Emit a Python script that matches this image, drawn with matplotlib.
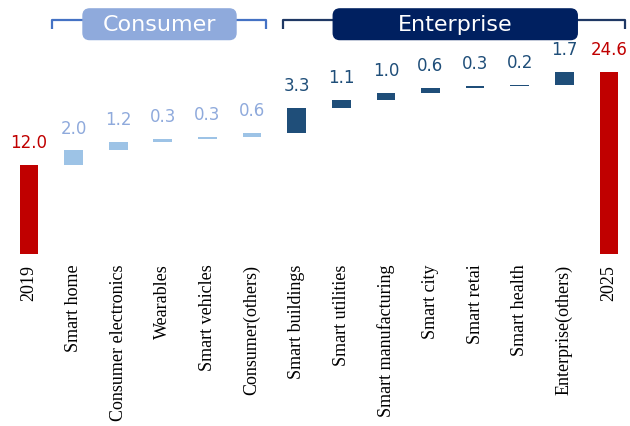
import matplotlib
matplotlib.use("Agg")
import matplotlib.pyplot as plt
from matplotlib.patches import FancyBboxPatch
import matplotlib.transforms as mtransforms

# -----------------------------
# Data
# -----------------------------
categories = ["2019", "Smart home", "Consumer electronics", "Wearables",
              "Smart vehicles", "Consumer(others)", "Smart buildings",
              "Smart utilities", "Smart manufacturing", "Smart city",
              "Smart retai", "Smart health", "Enterprise(others)", "2025"]
values = [12.0, 2.0, 1.2, 0.3, 0.3, 0.6, 3.3, 1.1, 1.0, 0.6, 0.3, 0.2, 1.7, 24.6]
kinds = ["total"] + ["consumer"] * 5 + ["enterprise"] * 7 + ["total"]

bar_colors = {"total": "#c00000", "consumer": "#9dc3e6", "enterprise": "#1f4e79"}
text_colors = {"total": "#c00000", "consumer": "#8faadc", "enterprise": "#1f4e79"}

# -----------------------------
# Waterfall bottoms
# -----------------------------
bottoms = []
running = 0.0
for v, k in zip(values, kinds):
    if k == "total":
        bottoms.append(0.0)
        running = v
    else:
        bottoms.append(running)
        running += v

fig = plt.figure(figsize=(6.3, 4.27), dpi=100)
ax = fig.add_axes([4.5 / 630, (427 - 255) / 427, (629 - 4.5) / 630, 222 / 427])

x = list(range(len(categories)))
ax.bar(x, values, bottom=bottoms, width=0.42,
       color=[bar_colors[k] for k in kinds])

for xi, v, b, k in zip(x, values, bottoms, kinds):
    ax.annotate(f"{v:.1f}", (xi, b + v), xytext=(0, 10), textcoords="offset points",
                ha="center", va="bottom", fontsize=12, color=text_colors[k])

ax.set_xlim(-0.55, 13.45)
ax.set_ylim(0, 30)
ax.set_xticks(x)
ax.set_xticklabels(categories, rotation=90, fontsize=13,
                   fontfamily="Liberation Serif")
ax.tick_params(axis="x", length=0, pad=7)
ax.set_yticks([])
for s in ax.spines.values():
    s.set_visible(False)

# -----------------------------
# Group brackets and headers
# -----------------------------
trans = mtransforms.blended_transform_factory(ax.transData, ax.transAxes)
groups = [("Consumer", 0.52, 5.31, 1.21, 4.64, "#4472c4", "#8faadc"),
          ("Enterprise", 5.7, 13.36, 6.82, 12.29, "#1f3864", "#002060")]
for name, x0, x1, bx0, bx1, line_c, box_c in groups:
    ax.plot([x0, x0, x1, x1], [1.014, 1.056, 1.056, 1.014], color=line_c,
            lw=1.6, transform=trans, clip_on=False, solid_capstyle="butt")
    box = FancyBboxPatch((bx0, 0.966), bx1 - bx0, 0.138,
                         boxstyle="round,pad=0,rounding_size=0.15",
                         mutation_aspect=0.2, transform=trans, clip_on=False,
                         facecolor=box_c, edgecolor=box_c, zorder=3)
    ax.add_patch(box)
    ax.text((bx0 + bx1) / 2, 1.035, name, transform=trans, ha="center",
            va="center", color="white", fontsize=16, zorder=4)

fig.savefig("out.png", dpi=100)
